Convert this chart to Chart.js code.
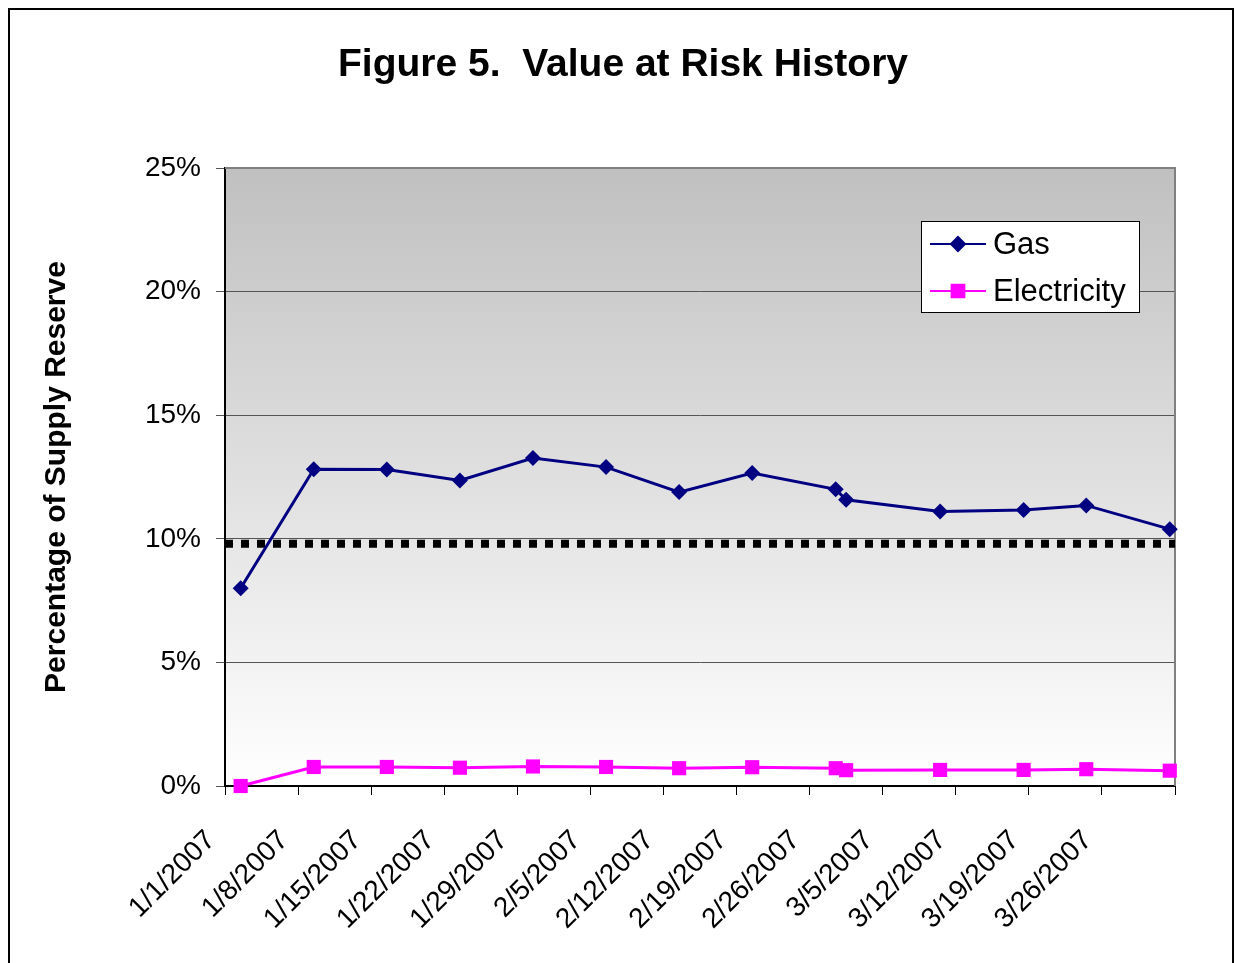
<!DOCTYPE html>
<html>
<head>
<meta charset="utf-8">
<title>Figure 5. Value at Risk History</title>
<script src="https://cdn.jsdelivr.net/npm/chart.js@4.4.1/dist/chart.umd.min.js"></script>
<style>
  body { margin: 0; background: #fff; }
  canvas { display: block; }
</style>
</head>
<body>
<canvas id="chart" width="1235" height="963"></canvas>
<script>
// observation dates
const dates = ['1/2/2007', '1/9/2007', '1/16/2007', '1/23/2007', '1/30/2007', '2/6/2007', '2/13/2007',
    '2/20/2007', '2/28/2007', '3/1/2007', '3/10/2007', '3/18/2007', '3/24/2007', '4/1/2007'];

// % of supply reserve
const gas = [8.0, 12.81, 12.80, 12.36, 13.27, 12.90, 11.89, 12.66, 12.00, 11.58, 11.10, 11.17, 11.35, 10.39];
const electricity = [0.0, 0.77, 0.77, 0.74, 0.79, 0.77, 0.72, 0.76, 0.72, 0.64, 0.65, 0.65, 0.68, 0.62];

const threshold = 9.8;

// axis: days from 1/1/2007, weekly ticks
const axisStart = '1/1/2007';
const axisDays = 91;
const tickStep = 7;
const yTicks = [0, 5, 10, 15, 20, 25];

function toDay(s) {
    const p = s.split('/').map(Number);
    const start = axisStart.split('/').map(Number);
    return (Date.UTC(p[2], p[0] - 1, p[1]) - Date.UTC(start[2], start[0] - 1, start[1])) / 86400000;
}

function dayLabel(d) {
    const start = axisStart.split('/').map(Number);
    const dt = new Date(Date.UTC(start[2], start[0] - 1, start[1]) + d * 86400000);
    return (dt.getUTCMonth() + 1) + '/' + dt.getUTCDate() + '/' + dt.getUTCFullYear();
}

// each date sits in the middle of its day slot
function points(values) {
    return values.map((v, i) => ({ x: toDay(dates[i]) + 0.5, y: v }));
}

const FONT = "Arial, 'Liberation Sans', sans-serif";

const plotBackground = {
    id: 'plotBackground',
    beforeDraw(chart) {
        const { ctx, chartArea: a } = chart;
        ctx.save();
        ctx.fillStyle = '#fff';
        ctx.fillRect(0, 0, chart.width, chart.height);
        const g = ctx.createLinearGradient(0, a.top, 0, a.bottom);
        g.addColorStop(0, '#c0c0c0');
        g.addColorStop(1, '#ffffff');
        ctx.fillStyle = g;
        ctx.fillRect(a.left, a.top, a.right - a.left, a.bottom - a.top);
        ctx.restore();
    },
    beforeDatasetsDraw(chart) {
        const { ctx, chartArea: a } = chart;
        ctx.save();
        ctx.strokeStyle = '#808080';
        ctx.lineWidth = 2;
        ctx.beginPath();
        ctx.moveTo(a.left, a.top);
        ctx.lineTo(a.right, a.top);
        ctx.lineTo(a.right, a.bottom);
        ctx.stroke();
        ctx.restore();
    }
};

// legend box and outer frame
const boxLegend = {
    id: 'boxLegend',
    afterDraw(chart) {
        const ctx = chart.ctx;
        ctx.save();
        ctx.fillStyle = '#fff';
        ctx.fillRect(921, 221, 218, 91);
        ctx.strokeStyle = '#000';
        ctx.lineWidth = 1;
        ctx.strokeRect(921.5, 221.5, 218, 91);

        const rows = [244, 291];
        chart.data.datasets.slice(0, 2).forEach((ds, i) => {
            const y = rows[i];
            ctx.strokeStyle = ds.borderColor;
            ctx.lineWidth = 2;
            ctx.beginPath();
            ctx.moveTo(930, y);
            ctx.lineTo(986, y);
            ctx.stroke();
            Chart.helpers.drawPoint(ctx, {
                pointStyle: ds.pointStyle, radius: ds.pointRadius - 1, borderWidth: 1
            }, 958, y);
            ctx.fillStyle = ds.borderColor;
            ctx.fill();
            ctx.fillStyle = '#000';
            ctx.font = '31px ' + FONT;
            ctx.textBaseline = 'middle';
            ctx.fillText(ds.label, 993, y + 1);
        });

        ctx.strokeStyle = '#000';
        ctx.lineWidth = 2;
        ctx.strokeRect(9, 9, 1224, 1000);
        ctx.restore();
    }
};

new Chart(document.getElementById('chart'), {
    type: 'line',
    data: {
        datasets: [{
            label: 'Gas',
            data: points(gas),
            borderColor: '#000080',
            backgroundColor: '#000080',
            borderWidth: 3,
            pointStyle: 'rectRot',
            pointRadius: 8,
            pointBorderWidth: 0,
            clip: false
        }, {
            label: 'Electricity',
            data: points(electricity),
            borderColor: '#ff00ff',
            backgroundColor: '#ff00ff',
            borderWidth: 3,
            pointStyle: 'rect',
            pointRadius: 10,
            pointBorderWidth: 0,
            clip: false
        }, {
            label: 'Limit',
            data: [{ x: 0, y: threshold }, { x: axisDays, y: threshold }],
            borderColor: '#000',
            borderWidth: 8,
            borderDash: [8, 8],
            borderCapStyle: 'butt',
            pointRadius: 0
        }]
    },
    options: {
        responsive: false,
        animation: false,
        layout: { padding: { left: 71, right: 60, top: 42, bottom: 0 } },
        plugins: {
            legend: { display: false },
            tooltip: { enabled: false },
            title: {
                display: true,
                text: 'Figure 5.  Value at Risk History',
                color: '#000',
                font: { family: FONT, size: 39, weight: 'bold', lineHeight: 1.2 },
                padding: { top: 0, bottom: 79.2 }
            }
        },
        scales: {
            x: {
                type: 'linear',
                min: 0,
                max: axisDays,
                afterFit(scale) { scale.height = 177; },
                afterBuildTicks(scale) {
                    const t = [];
                    for (let d = 0; d <= axisDays; d += tickStep) t.push({ value: d });
                    scale.ticks = t;
                },
                border: { color: '#000', width: 2 },
                grid: { drawOnChartArea: false, drawTicks: true, tickLength: 9, color: '#000' },
                ticks: {
                    autoSkip: false,
                    minRotation: 45,
                    maxRotation: 45,
                    padding: 29,
                    labelOffset: -14,
                    color: '#000',
                    font: { family: FONT, size: 28 },
                    callback: v => v >= axisDays ? '' : dayLabel(v)
                }
            },
            y: {
                min: 0,
                max: 25,
                afterFit(scale) { scale.width = 154; },
                afterBuildTicks(scale) { scale.ticks = yTicks.map(v => ({ value: v })); },
                border: { color: '#000', width: 2 },
                grid: { color: '#555', lineWidth: 1, tickLength: 9 },
                ticks: {
                    padding: 15,
                    color: '#000',
                    font: { family: FONT, size: 28 },
                    callback: v => v + '%'
                },
                title: {
                    display: true,
                    text: 'Percentage of Supply Reserve',
                    color: '#000',
                    font: { family: FONT, size: 30, weight: 'bold', lineHeight: 1.2 },
                    padding: { top: -32, bottom: 0 }
                }
            }
        }
    },
    plugins: [plotBackground, boxLegend]
});
</script>
</body>
</html>
